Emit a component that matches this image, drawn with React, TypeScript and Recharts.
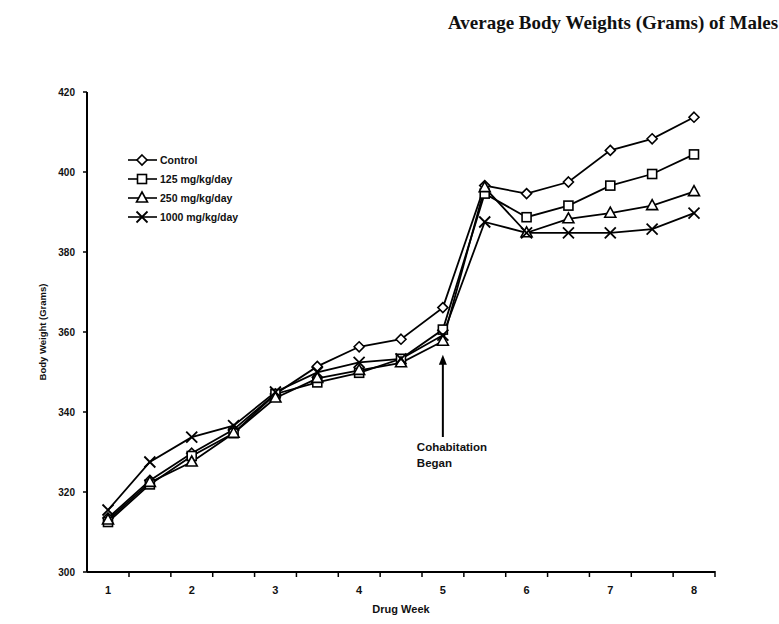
import React from 'react';
import { LineChart, Line, XAxis, YAxis, Legend, ReferenceLine, ReferenceDot, Label } from 'recharts';

const weeks = ['1', '1.5', '2', '2.5', '3', '3.5', '4', '4.5', '5', '5.5', '6', '6.5', '7', '7.5', '8'];
const control = [313.5, 322.9, 329.7, 335.6, 344.5, 351.4, 356.3, 358.2, 366.1, 396.6, 394.6, 397.5, 405.4, 408.3, 413.7];
const mg125 = [312.5, 321.9, 329.0, 334.7, 344.5, 347.4, 349.8, 353.3, 360.6, 394.6, 388.7, 391.6, 396.6, 399.5, 404.4];
const mg250 = [313.0, 322.4, 327.5, 334.7, 343.5, 348.4, 350.4, 352.3, 357.7, 396.1, 384.8, 388.3, 389.7, 391.6, 395.1];
const mg1000 = [315.5, 327.5, 333.7, 336.6, 345.0, 349.9, 352.4, 353.3, 359.2, 387.5, 384.8, 384.8, 384.8, 385.7, 389.7];
const yTicks = [300, 320, 340, 360, 380, 400, 420];
const seriesNames = ['Control', '125 mg/kg/day', '250 mg/kg/day', '1000 mg/kg/day'];
const seriesKeys = ['control', 'mg125', 'mg250', 'mg1000'];
const seriesShapes = ['diamond', 'square', 'triangle', 'cross'];
const titleText = 'Average Body Weights (Grams) of Males';
const xTitle = 'Drug Week';
const yTitle = 'Body Weight (Grams)';
const annotationLines = ['Cohabitation', 'Began'];
const annotationWeek = '5';
const arrowFrom = 333.75;
const arrowTo = 354.3;
const annotationY = 331.2;

const data = weeks.map((w, i) => ({
  week: w,
  control: control[i],
  mg125: mg125[i],
  mg250: mg250[i],
  mg1000: mg1000[i],
}));

const FONT = '"Liberation Sans", Arial, sans-serif';

function Marker({ cx, cy, shape }: { cx: number; cy: number; shape: string }) {
  if (cx == null || cy == null) return null;
  const s = { stroke: '#000', strokeWidth: 1.6, fill: '#fff' };
  if (shape === 'diamond') {
    return <polygon points={`${cx},${cy - 5} ${cx + 5},${cy} ${cx},${cy + 5} ${cx - 5},${cy}`} {...s} />;
  }
  if (shape === 'square') {
    return <rect x={cx - 4.5} y={cy - 4.5} width={9} height={9} {...s} />;
  }
  if (shape === 'triangle') {
    return <polygon points={`${cx},${cy - 6} ${cx + 5.5},${cy + 4} ${cx - 5.5},${cy + 4}`} {...s} />;
  }
  return (
    <g stroke="#000" strokeWidth={1.8}>
      <line x1={cx - 5.5} y1={cy - 5.5} x2={cx + 5.5} y2={cy + 5.5} />
      <line x1={cx - 5.5} y1={cy + 5.5} x2={cx + 5.5} y2={cy - 5.5} />
    </g>
  );
}

const XTick = (props: any) => {
  const { x, y, payload } = props;
  const v = String(payload.value);
  const isWhole = Number.isInteger(Number(v));
  return (
    <g>
      <line x1={x + 21} x2={x + 21} y1={y - 1} y2={y + 5} stroke="#000" strokeWidth={1.5} />
      {isWhole && (
        <text x={x} y={y + 18} textAnchor="middle" dominantBaseline="central" fontSize={11} fontWeight="bold" fontFamily={FONT} fill="#111">
          {v}
        </text>
      )}
    </g>
  );
};

const renderLegend = () => {
  return (
    <svg width={150} height={80} style={{ overflow: 'visible', display: 'block' }}>
      {seriesNames.map((name, i) => {
        const y = 10 + i * 19;
        return (
          <g key={`leg-${i}`}>
            <line x1={3} x2={32} y1={y} y2={y} stroke="#000" strokeWidth={1.6} />
            <Marker cx={17} cy={y} shape={seriesShapes[i]} />
            <text x={35} y={y} dominantBaseline="central" fontSize={10.5} fontWeight="bold" fontFamily={FONT} fill="#111">
              {name}
            </text>
          </g>
        );
      })}
    </svg>
  );
};

const ArrowHead = (props: any) => {
  const { cx, cy } = props;
  return <polygon points={`${cx},${cy} ${cx + 4},${cy + 10} ${cx - 4},${cy + 10}`} fill="#000" />;
};

const AnnotationText = (props: any) => {
  const { cx, cy } = props;
  return (
    <g>
      {annotationLines.map((t, i) => (
        <text key={t} x={cx - 26} y={cy + i * 16} dominantBaseline="central" fontSize={11.5} fontWeight="bold" fontFamily={FONT} fill="#111">
          {t}
        </text>
      ))}
    </g>
  );
};

const YLabel = (props: any) => {
  const vb = props.viewBox || { x: 0, y: 0, height: 0 };
  const cy = vb.y + vb.height / 2;
  return (
    <text transform={`translate(${vb.x - 5}, ${cy}) rotate(-90)`} textAnchor="middle" dominantBaseline="central" fontSize={9.5} fontWeight="bold" fontFamily={FONT} fill="#111">
      {yTitle}
    </text>
  );
};

export default function App() {
  return (
    <div style={{ position: 'absolute', left: 0, top: 0, width: 779, height: 624, background: '#fff', overflow: 'hidden' }}>
      <div
        style={{
          position: 'absolute',
          left: 448,
          top: 12,
          whiteSpace: 'nowrap',
          fontFamily: '"Liberation Serif", "Times New Roman", serif',
          fontSize: 19,
          fontWeight: 'bold',
          color: '#111',
        }}
      >
        {titleText}
      </div>
      <LineChart width={779} height={624} data={data} margin={{ top: 92, right: 64, left: 47, bottom: 22 }}>
        <XAxis
          dataKey="week"
          type="category"
          interval={0}
          padding={{ left: 21, right: 21 }}
          tick={<XTick />}
          tickLine={false}
          tickSize={0}
          tickMargin={0}
          height={30}
          axisLine={{ stroke: '#000', strokeWidth: 2 }}
        >
          <Label value={xTitle} position="bottom" offset={3} style={{ fontSize: 11, fontWeight: 'bold', fontFamily: FONT, fill: '#111' }} />
        </XAxis>
        <YAxis
          domain={[300, 420]}
          ticks={yTicks}
          width={40}
          tickSize={4}
          tickMargin={8}
          axisLine={{ stroke: '#000', strokeWidth: 2 }}
          tickLine={{ stroke: '#000', strokeWidth: 1.5 }}
          tick={{ fontSize: 10, fontWeight: 'bold', fontFamily: FONT, fill: '#111' }}
        >
          <Label content={<YLabel />} />
        </YAxis>
        <Legend
          layout="vertical"
          verticalAlign="middle"
          align="center"
          content={renderLegend}
          wrapperStyle={{ position: 'absolute', left: 125, top: 150, width: 150, height: 80 }}
        />
        {seriesKeys.map((k, i) => (
          <Line
            key={k}
            dataKey={k}
            name={seriesNames[i]}
            type="linear"
            stroke="#000"
            strokeWidth={1.8}
            isAnimationActive={false}
            dot={(p: any) => <Marker key={`${k}-${p.index}`} cx={p.cx} cy={p.cy} shape={seriesShapes[i]} />}
            activeDot={false}
          />
        ))}
        <ReferenceLine
          segment={[
            { x: annotationWeek, y: arrowFrom },
            { x: annotationWeek, y: arrowTo - 2 },
          ]}
          stroke="#000"
          strokeWidth={2}
        />
        <ReferenceDot x={annotationWeek} y={arrowTo} shape={<ArrowHead />} />
        <ReferenceDot x={annotationWeek} y={annotationY} shape={<AnnotationText />} />
      </LineChart>
    </div>
  );
}
